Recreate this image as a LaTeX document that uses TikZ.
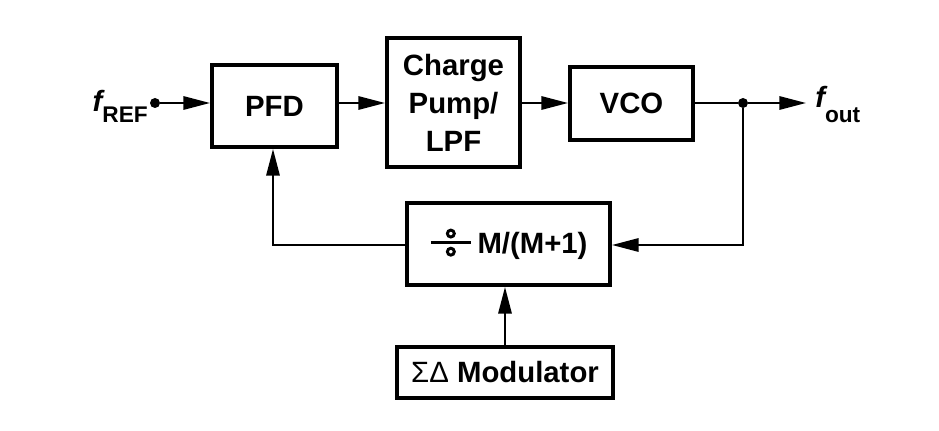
\documentclass[tikz,border=0pt]{standalone}
\usepackage{fontspec}
\setmainfont{Liberation Sans}
\usetikzlibrary{arrows.meta}
\tikzset{
  blk/.style={draw, line width=3pt, rectangle, inner sep=0pt, align=center,
    font=\fontsize{22}{28.5}\selectfont\bfseries},
  conn/.style={line width=1.6pt},
  arr/.style={conn, -{Triangle[length=20pt,width=10pt]}},
  dotc/.style={circle, fill, inner sep=0pt, minimum size=7.5pt}
}
\newcommand{\bigdiv}{\tikz[baseline={(0pt,-8pt)}]{%
  \draw[line width=2pt] (0pt,0pt) -- (30pt,0pt);
  \draw[line width=2.2pt] (15pt,6.8pt) circle[radius=2.6pt];
  \draw[line width=2.2pt] (15pt,-6.8pt) circle[radius=2.6pt];}}
\begin{document}
\begin{tikzpicture}[x=0.75pt,y=-0.75pt]
\useasboundingbox (0,0) rectangle (939,431);
\node[blk, minimum width=93.75pt, minimum height=61.5pt] (pfd) at (274.5,106) {PFD};
\node[blk, minimum width=99.75pt, minimum height=96.75pt] (cp) at (453.5,102.5) {Charge\\Pump/\\LPF};
\node[blk, minimum width=92.25pt, minimum height=54.75pt] (vco) at (631.5,103.5) {VCO};
\node[blk, minimum width=152.25pt, minimum height=61.5pt] (div) at (508.5,244) {\bigdiv\hspace{4pt}M/(M+1)};
\node[blk, minimum width=162pt, minimum height=38.25pt] (mod) at (505,372.5) {{\mdseries ΣΔ} Modulator};
\node[dotc] (in) at (155,103) {};
\node[dotc] (j) at (743,103) {};
\coordinate (out) at (806,103);
\coordinate (fbr) at (743,245);
\coordinate (fbl) at (273,245);
\node[anchor=base east, inner sep=0pt] (fref) at (148,112)
  {{\fontsize{22}{22}\selectfont\bfseries\itshape f}\raisebox{-8pt}{\fontsize{17}{17}\selectfont\bfseries REF}};
\node[anchor=base west, inner sep=0pt] (fout) at (815,108)
  {{\fontsize{22}{22}\selectfont\bfseries\itshape f}\raisebox{-11pt}{\fontsize{17}{17}\selectfont\bfseries out}};
\draw[arr] (in) -- (pfd.west |- in);
\draw[arr] (pfd.east |- in) -- (cp.west |- in);
\draw[arr] (cp.east |- in) -- (vco.west |- in);
\draw[conn] (vco.east |- j) -- (j);
\draw[arr] (j) -- (out);
\draw[arr] (j) -- (fbr) -- (div.east |- fbr);
\draw[arr] (div.west |- fbl) -- (fbl) -- (fbl |- pfd.south);
\draw[arr] (mod.north) -- (mod.north |- div.south);
\end{tikzpicture}
\end{document}
